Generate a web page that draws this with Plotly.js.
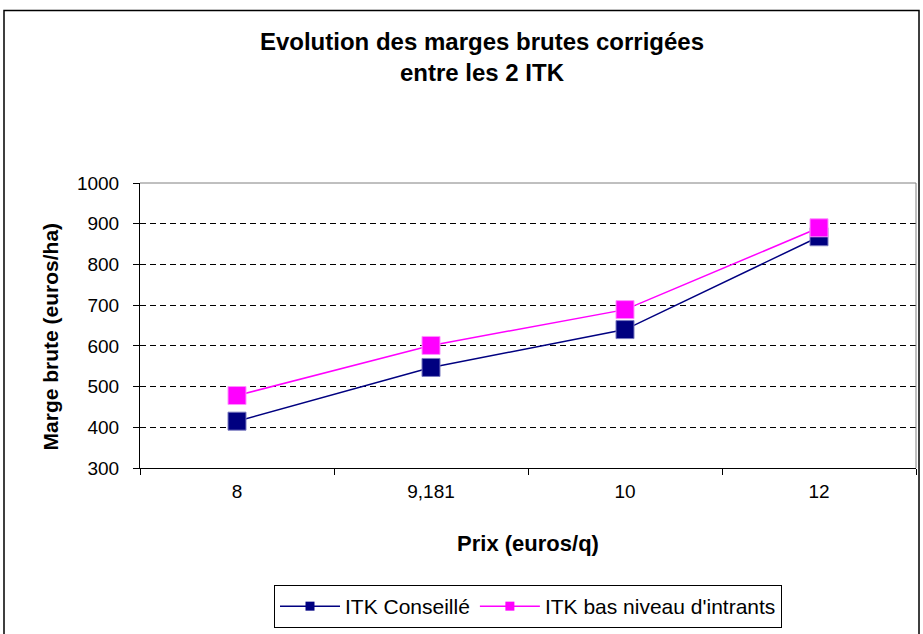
<!DOCTYPE html>
<html>
<head>
<meta charset="utf-8">
<script src="https://cdn.plot.ly/plotly-3.0.1.min.js"></script>
<style>
  html, body { margin: 0; padding: 0; background: #ffffff; }
  #chart { width: 923px; height: 634px; }
</style>
</head>
<body>
<div id="chart"></div>
<script>
// ---- Data ----
const categories = ["8", "9,181", "10", "12"];
const seriesNames = ["ITK Conseillé", "ITK bas niveau d'intrants"];
const itkConseille = [415, 547, 640, 868];
const itkBasNiveau = [478, 601, 689, 890];
const yTickValues = [300, 400, 500, 600, 700, 800, 900, 1000];

const chartTitle = "Evolution des marges brutes corrigées<br>entre les 2 ITK";
const xTitle = "Prix (euros/q)";
const yTitle = "Marge brute (euros/ha)";

// ---- Styles ----
const FONT = "Liberation Sans, Arial, sans-serif";
const blue = "#000080";
const pink = "#FF00FF";

// Plot area in pixels
const W = 923, H = 634;
const L = 140, R = 916, T = 183, B = 469;
const px = v => (v - L) / (R - L);
const py = v => (B - v) / (B - T);

const traces = [
  {
    x: categories, y: itkConseille, type: "scatter", mode: "lines+markers",
    name: seriesNames[0], showlegend: false,
    line: { color: blue, width: 1.5 },
    marker: { symbol: "square", size: 18, color: blue, line: { color: "#7a7ac0", width: 1 } }
  },
  {
    x: categories, y: itkBasNiveau, type: "scatter", mode: "lines+markers",
    name: seriesNames[1], showlegend: false,
    line: { color: pink, width: 1.5 },
    marker: { symbol: "square", size: 18, color: pink, line: { color: "#ff90ff", width: 1 } }
  },
  // legend-only entries (small markers like the reference legend)
  {
    x: [null], y: [null], type: "scatter", mode: "lines+markers",
    name: seriesNames[0], showlegend: true,
    line: { color: blue, width: 1.5 },
    marker: { symbol: "square", size: 9, color: blue }
  },
  {
    x: [null], y: [null], type: "scatter", mode: "lines+markers",
    name: seriesNames[1], showlegend: true,
    line: { color: pink, width: 1.5 },
    marker: { symbol: "square", size: 9, color: pink }
  }
];

const layout = {
  width: W, height: H,
  margin: { l: L, r: W - R, t: T, b: H - B, pad: 0 },
  paper_bgcolor: "#ffffff",
  plot_bgcolor: "#ffffff",
  font: { family: FONT, color: "#000000", size: 19 },
  title: {
    text: chartTitle,
    font: { family: FONT, size: 24, weight: "bold", color: "#000000" },
    xref: "container", yref: "container",
    x: 482 / W, y: 1 - 50 / H, xanchor: "center", yanchor: "middle"
  },
  xaxis: {
    type: "category",
    categoryorder: "array", categoryarray: categories,
    range: [-0.5, categories.length - 0.5],
    tickson: "boundaries",
    ticks: "outside", ticklen: 6, tickcolor: "#000000", tickwidth: 1,
    showline: true, linecolor: "#000000", linewidth: 1,
    showgrid: false, zeroline: false,
    ticklabelstandoff: 6,
    tickfont: { family: FONT, size: 19 },
    title: { text: xTitle, font: { family: FONT, size: 22, weight: "bold" }, standoff: 34 },
    fixedrange: true
  },
  yaxis: {
    range: [300, 1000],
    tickmode: "array", tickvals: yTickValues,
    ticks: "outside", ticklen: 6, tickcolor: "#000000", tickwidth: 1,
    showline: true, linecolor: "#000000", linewidth: 1,
    showgrid: true, gridcolor: "#000000", gridwidth: 1, griddash: "6px,4px",
    zeroline: false,
    ticklabelstandoff: 10,
    tickfont: { family: FONT, size: 19 },
    fixedrange: true
  },
  annotations: [
    { text: yTitle, xref: "paper", yref: "paper", x: px(50), y: py(337),
      xanchor: "center", yanchor: "middle", textangle: -90, showarrow: false,
      font: { family: FONT, size: 21, weight: "bold", color: "#000000" } }
  ],
  showlegend: true,
  legend: {
    orientation: "h",
    x: px(528), xanchor: "center",
    y: py(585), yanchor: "top",
    bordercolor: "#000000", borderwidth: 1,
    bgcolor: "#ffffff",
    itemwidth: 60,
    font: { family: FONT, size: 21 },
    itemclick: false, itemdoubleclick: false
  },
  shapes: [
    // outer chart border
    { type: "rect", xref: "paper", yref: "paper",
      x0: px(4), x1: px(919), y0: py(660), y1: py(10),
      line: { color: "#000000", width: 1.5 }, layer: "below" },
    // plot-area border (top and right, grey)
    { type: "line", xref: "paper", yref: "paper", x0: 0, x1: 1, y0: 1, y1: 1,
      line: { color: "#808080", width: 1 }, layer: "above" },
    { type: "line", xref: "paper", yref: "paper", x0: 1, x1: 1, y0: 0, y1: 1,
      line: { color: "#808080", width: 1 }, layer: "above" }
  ]
};

Plotly.newPlot("chart", traces, layout, { displayModeBar: false, staticPlot: true });
</script>
</body>
</html>
